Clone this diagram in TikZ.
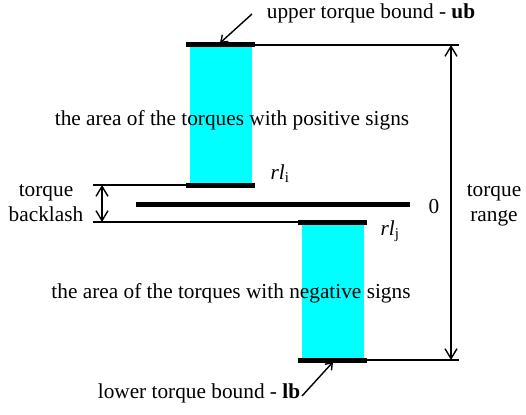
\documentclass[tikz,border=0pt]{standalone}
\usepackage{fontspec}
\setmainfont{Liberation Serif}
\usetikzlibrary{arrows.meta}
\definecolor{aqua}{RGB}{0,255,255}
\begin{document}
\begin{tikzpicture}[x=1pt,y=-1pt,
  lbl/.style={inner sep=0pt,font=\fontsize{21.3}{24.5}\selectfont},
  thin/.style={line width=1.4pt},
  bar/.style={line width=5pt},
  dim/.style={line width=1.4pt,{Straight Barb[length=10pt,width=12pt]}-{Straight Barb[length=10pt,width=12pt]}},
  lead/.style={line width=1.4pt,-{Straight Barb[length=6pt,width=9pt]}}]
\useasboundingbox (0,0) rectangle (526,414);
% boxes
\fill[aqua] (190,47) rectangle (252,184);
\fill[aqua] (302,224) rectangle (364,358);
% coordinates
\coordinate (ubL) at (186,45); \coordinate (ubR) at (255,45); \coordinate (ubE) at (459,45);
\coordinate (riL) at (186,185); \coordinate (riR) at (255,185); \coordinate (riE) at (93,185);
\coordinate (zL) at (136,204); \coordinate (zR) at (410,204);
\coordinate (rjL) at (298,222); \coordinate (rjR) at (367,222); \coordinate (rjE) at (93,222);
\coordinate (lbL) at (298,360); \coordinate (lbR) at (367,360); \coordinate (lbE) at (459,360);
\coordinate (rT) at (451,45); \coordinate (rB) at (451,360);
\coordinate (bT) at (102,185); \coordinate (bB) at (102,222);
\coordinate (ubTip) at (220,43); \coordinate (ubTail) at (252,14);
\coordinate (lbTip) at (333,362); \coordinate (lbTail) at (302,396);
% thin lines
\draw[thin] (ubR) -- (ubE);
\draw[thin] (riE) -- (riL);
\draw[thin] (rjE) -- (rjL);
\draw[thin] (lbR) -- (lbE);
% bars
\draw[bar] (ubL) -- (ubR);
\draw[bar] (riL) -- (riR);
\draw[bar] (zL) -- (zR);
\draw[bar] (rjL) -- (rjR);
\draw[bar] (lbL) -- (lbR);
% dimension arrows
\draw[dim] (rT) -- (rB);
\draw[dim] (bT) -- (bB);
% leaders
\draw[lead] (ubTail) -- (ubTip);
\draw[lead] (lbTail) -- (lbTip);
% labels
\node[lbl,anchor=base] (ub) at (371,19) {upper torque bound - \textbf{ub}};
\node[lbl,anchor=base] (lb) at (199,398) {lower torque bound - \textbf{lb}};
\node[lbl,anchor=base] (pos) at (232,125) {the area of the torques with positive signs};
\node[lbl,anchor=base] (neg) at (231,298) {the area of the torques with negative signs};
\node[lbl,anchor=base] (rli) at (280,179) {\textit{rl}\textsubscript{i}};
\node[lbl,anchor=base] (rlj) at (390,235) {\textit{rl}\textsubscript{j}};
\node[lbl,anchor=base] (zero) at (434,213) {0};
\node[lbl,anchor=base,align=center] (tr) at (494,221) {torque\\range};
\node[lbl,anchor=base,align=center] (tb) at (46,221) {torque\\backlash};
\end{tikzpicture}
\end{document}
